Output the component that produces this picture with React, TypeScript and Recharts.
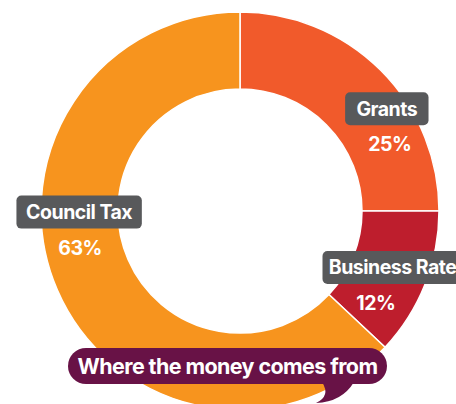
import React from "react";
import { PieChart, Pie, Cell } from "recharts";

// slices, clockwise from 12 o'clock
const sources = ["Grants", "Business Rates", "Council Tax"];
const shares = [25, 12, 63];
const colors = ["#F15A2B", "#BE1E2D", "#F7941E"];

const title = "Where the money comes from";

// nudges so the tags sit where the original artwork put them
const labelShift: Record<string, { angle: number; boxDx: number }> = {
  Grants: { angle: -21, boxDx: -3 },
  "Business Rates": { angle: -12.5, boxDx: 22 },
  "Council Tax": { angle: -10.5, boxDx: -1 },
};

const data = sources.map((name, i) => ({ name, value: shares[i] }));

const FONT = "Inter, 'Noto Sans', sans-serif";
const RAD = Math.PI / 180;

// eslint-disable-next-line @typescript-eslint/no-explicit-any
function SliceLabel(props: any) {
  const { cx, cy, midAngle, name, value } = props;
  const shift = labelShift[name] ?? { angle: 0, boxDx: 0 };
  const a = (midAngle + shift.angle) * RAD;
  const r = 164;
  const x = cx + r * Math.cos(a);
  const y = cy - r * Math.sin(a);
  const boxW = name.length * 8.4 + 33;
  const bx = x + shift.boxDx;
  return (
    <g>
      <rect
        x={bx - boxW / 2}
        y={y - 35.5 - 16.5}
        width={boxW}
        height={33}
        rx={5}
        fill="#58595B"
      />
      <text
        x={bx}
        y={y - 35.5}
        dy={7}
        textAnchor="middle"
        fill="#fff"
        fontFamily={FONT}
        fontWeight={700}
        fontSize={19.5}
        letterSpacing={-0.5}
      >
        {name}
      </text>
      <text
        x={x}
        y={y}
        dy={7}
        textAnchor="middle"
        fill="#fff"
        fontFamily={FONT}
        fontWeight={700}
        fontSize={19.5}
        letterSpacing={-0.5}
      >
        {value}%
      </text>
    </g>
  );
}

export default function App() {
  return (
    <div style={{ position: "absolute", left: 0, top: 0, width: 456, height: 404, overflow: "hidden", background: "#fff" }}>
      <PieChart width={456} height={404} margin={{ top: 0, right: 0, bottom: 0, left: 0 }}>
        <Pie
          data={data}
          dataKey="value"
          nameKey="name"
          cx={240}
          cy={211}
          innerRadius={122}
          outerRadius={199}
          startAngle={90}
          endAngle={-270}
          stroke="#fff"
          strokeWidth={1.5}
          label={SliceLabel}
          labelLine={false}
          isAnimationActive={false}
        >
          {data.map((d, i) => (
            <Cell key={d.name} fill={colors[i]} />
          ))}
        </Pie>
      </PieChart>

      {/* title bubble */}
      <svg
        width={456}
        height={404}
        style={{ position: "absolute", left: 0, top: 0, pointerEvents: "none" }}
      >
        <path d="M 322 382 Q 331 396 316 403 Q 342 402 354 382 Z" fill="#681246" />
        <rect x={68} y={348} width={319} height={36} rx={18} fill="#681246" />
        <text
          x={227.5}
          y={366}
          dy={7.5}
          textAnchor="middle"
          fill="#fff"
          fontFamily={FONT}
          fontWeight={700}
          fontSize={21.5}
          letterSpacing={-0.6}
        >
          {title}
        </text>
      </svg>
    </div>
  );
}
